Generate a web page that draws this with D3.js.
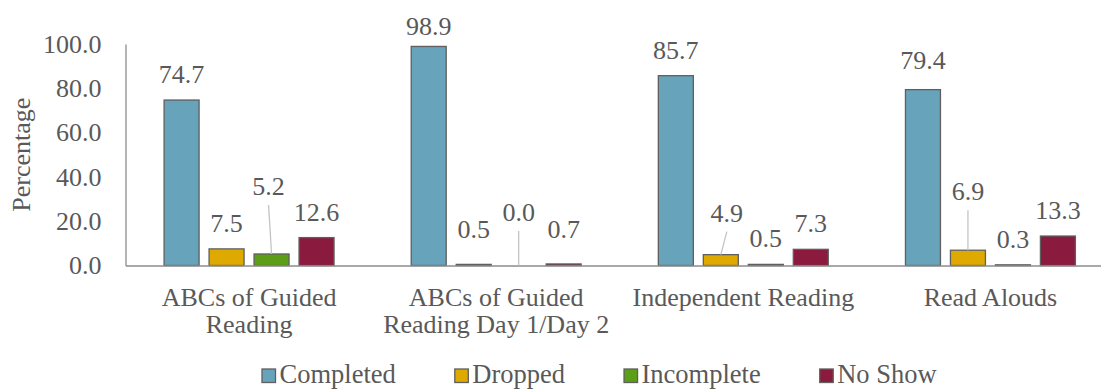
<!DOCTYPE html>
<html>
<head>
<meta charset="utf-8">
<script src="https://cdn.jsdelivr.net/npm/d3@7/dist/d3.min.js"></script>
<style>
  html, body { margin: 0; padding: 0; background: #fff; }
  svg { display: block; }
  text { font-family: "Liberation Serif", "Times New Roman", serif; fill: #595959; }
</style>
</head>
<body>
<svg id="chart" width="1101" height="389"></svg>
<script>
// Chart data
const categories = [
  "ABCs of Guided Reading",
  "ABCs of Guided Reading Day 1/Day 2",
  "Independent Reading",
  "Read Alouds"
];
const seriesNames = ["Completed", "Dropped", "Incomplete", "No Show"];
const completed  = [74.7, 98.9, 85.7, 79.4];
const dropped    = [7.5, 0.5, 4.9, 6.9];
const incomplete = [5.2, 0.0, 0.5, 0.3];
const noShow     = [12.6, 0.7, 7.3, 13.3];
const yTicks = [0, 20, 40, 60, 80, 100];

const seriesValues = [completed, dropped, incomplete, noShow];
const colors = ["#67A3BA", "#DEA900", "#5C9F16", "#8B1B3E"];

// Hand-placed data labels: pixel nudges and leader lines
const labelNudge = {
  "2-0": { dx: -3, dy: -42, leader: true },
  "1-1": { dx: 0, dy: -9 },
  "2-1": { dx: 0, dy: -27.5, leader: true },
  "3-1": { dx: 0, dy: -9 },
  "1-2": { dx: 6, dy: -16, leader: true },
  "0-3": { dx: 0, dy: -4 },
  "1-3": { dx: 0, dy: -33, leader: true }
};

const svg = d3.select("#chart");
const fontSize = 26;
const legendFontSize = 26.5;
const serif = "'Liberation Serif', 'Times New Roman', serif";

const plot = { left: 125.5, right: 1114, top: 44, bottom: 265.5 };

const x0 = d3.scaleBand()
  .domain(categories)
  .range([plot.left, plot.right])
  .paddingInner(0)
  .paddingOuter(0);

const x1 = d3.scaleBand()
  .domain(seriesNames)
  .range([0, x0.bandwidth()])
  .paddingInner(10 / 45)
  .paddingOuter(0.858);

const y = d3.scaleLinear().domain([0, 100]).range([plot.bottom, plot.top]);

// Y axis
const yAxis = svg.append("g")
  .attr("transform", `translate(${plot.left},0)`)
  .call(d3.axisLeft(y).tickValues(yTicks).tickFormat(d3.format(".1f")).tickSize(0).tickSizeOuter(0).tickPadding(24));
yAxis.attr("font-family", null).attr("font-size", null);
yAxis.select(".domain").attr("stroke", "#8c8c8c").attr("stroke-width", 1.3);
yAxis.selectAll("text")
  .style("font-family", serif)
  .style("font-size", fontSize + "px")
  .attr("fill", "#595959");

// Y axis title
svg.append("text")
  .attr("transform", `translate(30,${(plot.top + plot.bottom) / 2}) rotate(-90)`)
  .attr("text-anchor", "middle")
  .style("font-family", serif)
  .style("font-size", fontSize + "px")
  .text("Percentage");

// Bars
const rows = [];
categories.forEach((c, ci) => {
  seriesNames.forEach((s, si) => {
    rows.push({ c, ci, s, si, v: seriesValues[si][ci] });
  });
});

svg.append("g").selectAll("rect")
  .data(rows)
  .join("rect")
  .attr("x", d => x0(d.c) + x1(d.s))
  .attr("y", d => y(d.v))
  .attr("width", x1.bandwidth())
  .attr("height", d => Math.max(0, y(0) - y(d.v)))
  .attr("fill", d => colors[d.si])
  .attr("stroke", d => d.v > 0 ? "#5f5f5f" : "none")
  .attr("stroke-width", 1.3);

// X axis
const xAxis = svg.append("g")
  .attr("transform", `translate(0,${plot.bottom})`)
  .call(d3.axisBottom(x0).tickSize(0).tickSizeOuter(0).tickFormat(""));
xAxis.select(".domain").attr("stroke", "#8c8c8c").attr("stroke-width", 1.3);

// Category labels, wrapped to the band width
const catG = svg.append("g");
categories.forEach(c => {
  const cx = x0(c) + x0.bandwidth() / 2;
  const t = catG.append("text")
    .attr("x", cx)
    .attr("y", 306)
    .attr("text-anchor", "middle")
    .style("font-family", serif)
    .style("font-size", fontSize + "px");
  const words = c.split(" ");
  let line = [];
  let tspan = t.append("tspan").attr("x", cx).attr("dy", 0);
  words.forEach(w => {
    line.push(w);
    tspan.text(line.join(" "));
    if (tspan.node().getComputedTextLength() > x0.bandwidth() - 6 && line.length > 1) {
      line.pop();
      tspan.text(line.join(" "));
      line = [w];
      tspan = t.append("tspan").attr("x", cx).attr("dy", 27).text(w);
    }
  });
});

// Data labels with optional leader lines
const labelG = svg.append("g");
rows.forEach(d => {
  const key = `${d.si}-${d.ci}`;
  const n = labelNudge[key] || { dx: 0, dy: 0 };
  const cx = x0(d.c) + x1(d.s) + x1.bandwidth() / 2;
  const lx = cx + n.dx;
  const base = Math.max(y(d.v) - 17 + n.dy, 35);
  if (n.leader) {
    labelG.append("line")
      .attr("x1", lx).attr("y1", base + 10)
      .attr("x2", cx).attr("y2", y(d.v))
      .attr("stroke", "#c4c4c4")
      .attr("stroke-width", 1.3);
  }
  labelG.append("text")
    .attr("x", lx)
    .attr("y", base)
    .attr("text-anchor", "middle")
    .style("font-family", serif)
    .style("font-size", fontSize + "px")
    .text(d3.format(".1f")(d.v));
});

// Legend
const legend = svg.append("g");
let lxPos = 262;
seriesNames.forEach((s, i) => {
  legend.append("rect")
    .attr("x", lxPos).attr("y", 369)
    .attr("width", 13.5).attr("height", 13.5)
    .attr("fill", colors[i])
    .attr("stroke", "#5f5f5f")
    .attr("stroke-width", 1.3);
  const t = legend.append("text")
    .attr("x", lxPos + 17.5)
    .attr("y", 383)
    .style("font-family", serif)
    .style("font-size", legendFontSize + "px")
    .text(s);
  lxPos += 17.5 + t.node().getComputedTextLength() + 59;
});
</script>
</body>
</html>
